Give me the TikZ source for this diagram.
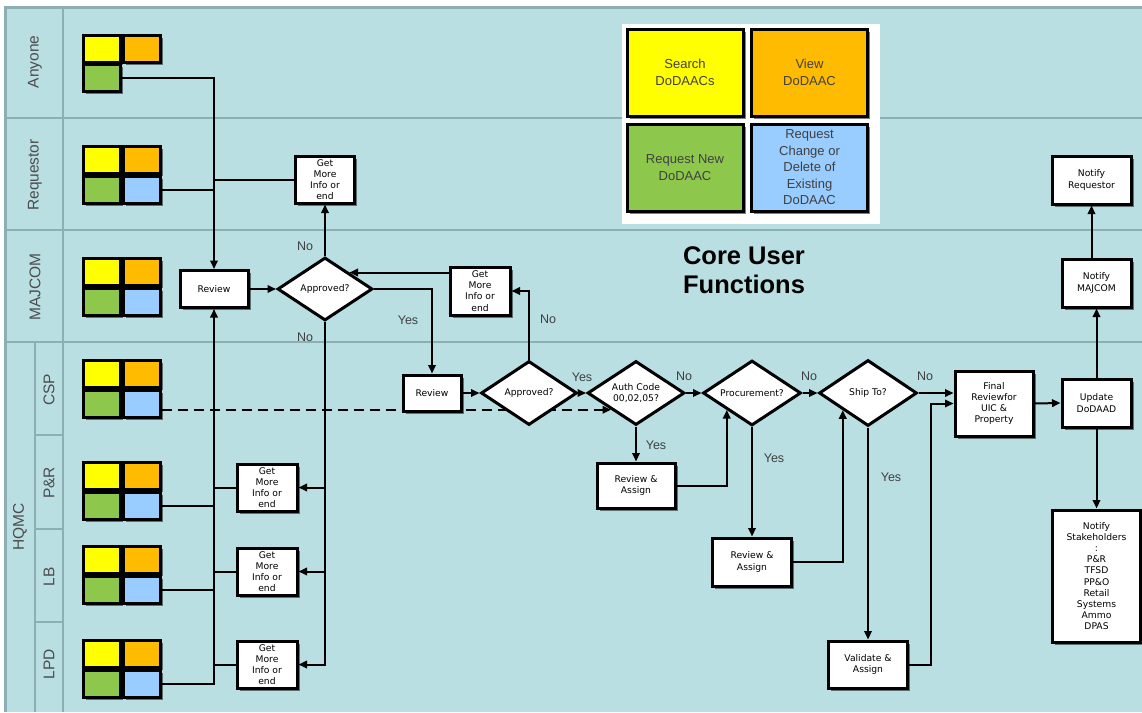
\documentclass[tikz,border=0pt]{standalone}
\usepackage{fontspec}
\setmainfont{Liberation Sans}
\newfontfamily\boxfont{DejaVu Sans}
\usetikzlibrary{arrows.meta,shapes.geometric,shadows}
\definecolor{lanebg}{HTML}{B9DFE3}
\definecolor{laneline}{HTML}{8DAEB2}
\definecolor{cyel}{HTML}{FFFF00}
\definecolor{cora}{HTML}{FFBB00}
\definecolor{cgrn}{HTML}{8DC84C}
\definecolor{cblu}{HTML}{99CCFF}
\newcommand\bxf{\boxfont\fontsize{9.2}{11.2}\selectfont}
\pgfdeclarelayer{lanes}
\pgfdeclarelayer{under}
\pgfsetlayers{lanes,under,main}
\begin{document}
\begin{tikzpicture}[x=1pt,y=-1pt,
  shad/.style={drop shadow={shadow xshift=2.5pt,shadow yshift=-2.5pt,fill=black,opacity=0.5}},
  pbox/.style 2 args={draw,line width=3pt,fill=white,align=center,inner sep=1pt,font=\bxf,
     minimum width=#1pt,minimum height=#2pt,shad},
  dia/.style 2 args={diamond,draw,line width=3pt,fill=white,inner sep=0pt,aspect=1.5,
     minimum width=#1pt,minimum height=#2pt,font=\bxf,align=center},
  cbox/.style={draw,line width=3pt,minimum width=37pt,minimum height=27pt,inner sep=0pt,shad},
  lbox/.style={draw,line width=3pt,minimum width=116pt,minimum height=87pt,inner sep=0pt,align=center,
     text=black!75,font=\fontsize{13}{16.5}\selectfont,shad},
  arr/.style={-{Triangle[length=8.5pt,width=7.5pt]},line width=2pt},
  ln/.style={line width=2pt},
  yn/.style={font=\fontsize{12.5}{14}\selectfont,text=black!75,inner sep=0pt},
  lanelbl/.style={rotate=90,font=\fontsize{15.5}{17}\selectfont,text=black!70,inner sep=0pt},
  laneln/.style={draw=laneline,line width=2.2pt}]
\useasboundingbox (0,0) rectangle (1142,712);
\begin{pgfonlayer}{lanes}
  \fill[white] (0,0) rectangle (1142,712);
  \fill[lanebg] (5,7) rectangle (1142,712);
  \path[laneln,line width=3pt] (5,712) -- (5,7) -- (1142,7);
  \path[laneln] (63,7) -- (63,712);
  \path[laneln] (35,342) -- (35,712);
  \path[laneln] (5,118) -- (1142,118);
  \path[laneln] (5,230) -- (1142,230);
  \path[laneln] (5,342) -- (1142,342);
  \path[laneln] (35,435) -- (63,435);
  \path[laneln] (35,529) -- (63,529);
  \path[laneln] (35,622) -- (63,622);
\end{pgfonlayer}

% lane labels
\node[lanelbl] (lAny) at (35,62) {Anyone};
\node[lanelbl] (lReq) at (35,175) {Requestor};
\node[lanelbl] (lMaj) at (35,287) {MAJCOM};
\node[lanelbl] (lHq) at (20,527) {HQMC};
\node[lanelbl] (lCsp) at (49,390) {CSP};
\node[lanelbl] (lPr) at (49,483) {P\&R};
\node[lanelbl] (lLb) at (49,577) {LB};
\node[lanelbl] (lLpd) at (49,664) {LPD};

% colour boxes in lanes
\node[cbox,fill=cyel] (any-y) at (102,48.5) {};
\node[cbox,fill=cora] (any-o) at (142,48.5) {};
\node[cbox,fill=cgrn] (any-g) at (102,78) {};
\foreach \p/\yy in {req/160,maj/271.5,csp/374,pr/476,lb/560,lpd/654}{
  \node[cbox,fill=cyel] (\p-y) at (102,\yy) {};
  \node[cbox,fill=cora] (\p-o) at (142,\yy) {};
  \node[cbox,fill=cgrn] (\p-g) at (102,\yy+30) {};
  \node[cbox,fill=cblu] (\p-b) at (142,\yy+30) {};
}

% legend
\node[fill=white,minimum width=258pt,minimum height=200pt,inner sep=0pt] (legend) at (751,124) {};
\node[lbox,fill=cyel] (legS) at (685,72.5) {Search\\DoDAACs};
\node[lbox,fill=cora] (legV) at (809.5,72.5) {View\\DoDAAC};
\node[lbox,fill=cgrn] (legN) at (685,167.5) {Request New\\DoDAAC};
\node[lbox,fill=cblu] (legC) at (809.5,167.5) {Request\\Change or\\Delete of\\Existing\\DoDAAC};

\node[font=\bfseries\fontsize{25.5}{29}\selectfont,align=center,inner sep=0pt] (core) at (744,270) {Core User\\Functions};

% process nodes
\node[pbox={68}{37}] (rev1) at (214,289) {Review};
\node[dia={95}{63}] (app1) at (325,289) {Approved?};
\node[pbox={59}{47}] (gmi1) at (325,179.5) {Get\\More\\Info or\\end};
\node[pbox={60}{48}] (gmi5) at (480,291) {Get\\More\\Info or\\end};
\node[pbox={58}{36}] (rev2) at (432,393) {Review};
\node[dia={96}{64}] (app2) at (529,393) {Approved?};
\node[dia={97}{64}] (auth) at (636,393) {Auth Code\\00,02,05?};
\node[dia={98}{65}] (proc) at (752,393) {Procurement?};
\node[dia={98}{66}] (ship) at (868,393) {Ship To?};
\node[pbox={78}{45}] (ra1) at (636,485.5) {Review \&\\Assign};
\node[pbox={79}{48}] (ra2) at (752,562) {Review \&\\Assign};
\node[pbox={79}{47}] (va) at (868,664.5) {Validate \&\\Assign};
\node[pbox={78}{65}] (final) at (994,403.5) {Final\\Reviewfor\\UIC \&\\Property};
\node[pbox={69}{48}] (update) at (1096.5,403) {Update\\DoDAAD};
\node[pbox={69}{48}] (nm) at (1096.5,283) {Notify\\MAJCOM};
\node[pbox={79}{48}] (nr) at (1091.5,180) {Notify\\Requestor};
\node[pbox={88}{132}] (ns) at (1096.5,576) {Notify\\Stakeholders\\:\\P\&R\\TFSD\\PP\&O\\Retail\\Systems\\Ammo\\DPAS};
\node[pbox={60}{47}] (gmi2) at (267,487.5) {Get\\More\\Info or\\end};
\node[pbox={60}{47}] (gmi3) at (267,571.5) {Get\\More\\Info or\\end};
\node[pbox={60}{47}] (gmi4) at (267,664.5) {Get\\More\\Info or\\end};
\coordinate (vaTurn) at (931,403.5);

% connectors
\draw[arr] (any-g.east) -| (rev1.north);
\draw[ln] (req-b.east) -- (req-b.east -| rev1.north);
\draw[ln] (gmi1.west) -- (gmi1.west -| rev1.north);
\draw[arr] (lpd-b.east) -| (rev1.south);
\draw[ln] (pr-b.east) -- (pr-b.east -| rev1.south);
\draw[ln] (lb-b.east) -- (lb-b.east -| rev1.south);
\draw[ln] (gmi2.west) -- (gmi2.west -| rev1.south);
\draw[ln] (gmi3.west) -- (gmi3.west -| rev1.south);
\draw[ln] (gmi4.west) -- (gmi4.west -| rev1.south);
\draw[arr] (rev1.east) -- (app1.west);
\draw[arr] (app1.north) -- (gmi1.south);
\draw[arr] (app1.south) |- (gmi4.east);
\draw[arr] (app1.south |- gmi2.east) -- (gmi2.east);
\draw[arr] (app1.south |- gmi3.east) -- (gmi3.east);
\draw[arr] (app1.east) -| (rev2.north);
\draw[arr] (gmi5.west |- app1.north east) -- (app1.north east);
\draw[arr] (app2.north) |- (gmi5.east);
\draw[arr] (rev2.east) -- (app2.west);
\draw[arr] (app2.east) -- (auth.west);
\draw[arr] (auth.east) -- (proc.west);
\draw[arr] (proc.east) -- (ship.west);
\draw[arr] (auth.south) -- (ra1.north);
\draw[arr] (ra1.east) -| (proc.south west);
\draw[arr] (proc.south) -- (ra2.north);
\draw[arr] (ra2.east) -| (ship.south west);
\draw[arr] (ship.south) -- (va.north);
\draw[arr] (ship.east) -- (ship.east -| final.west);
\draw[arr] (va.east) -| (vaTurn) -- (final.west);
\draw[arr] (final.east) -- (update.west);
\draw[arr] (update.north) -- (nm.south);
\draw[arr] (nr.south |- nm.north) -- (nr.south);
\draw[arr] (update.south) -- (ns.north);
\begin{pgfonlayer}{under}
\draw[arr,dash pattern=on 10pt off 6pt] (csp-b.east |- auth.south west) -- (auth.south west);
\end{pgfonlayer}

% Yes / No labels
\node[yn] (l1) at (305,246) {No};
\node[yn] (l2) at (305,337) {No};
\node[yn] (l3) at (408,320) {Yes};
\node[yn] (l4) at (548,319) {No};
\node[yn] (l5) at (582,377) {Yes};
\node[yn] (l6) at (684,376) {No};
\node[yn] (l7) at (656,445) {Yes};
\node[yn] (l8) at (809,376) {No};
\node[yn] (l9) at (774,458) {Yes};
\node[yn] (l10) at (925,376) {No};
\node[yn] (l11) at (891,477) {Yes};
\end{tikzpicture}
\end{document}
